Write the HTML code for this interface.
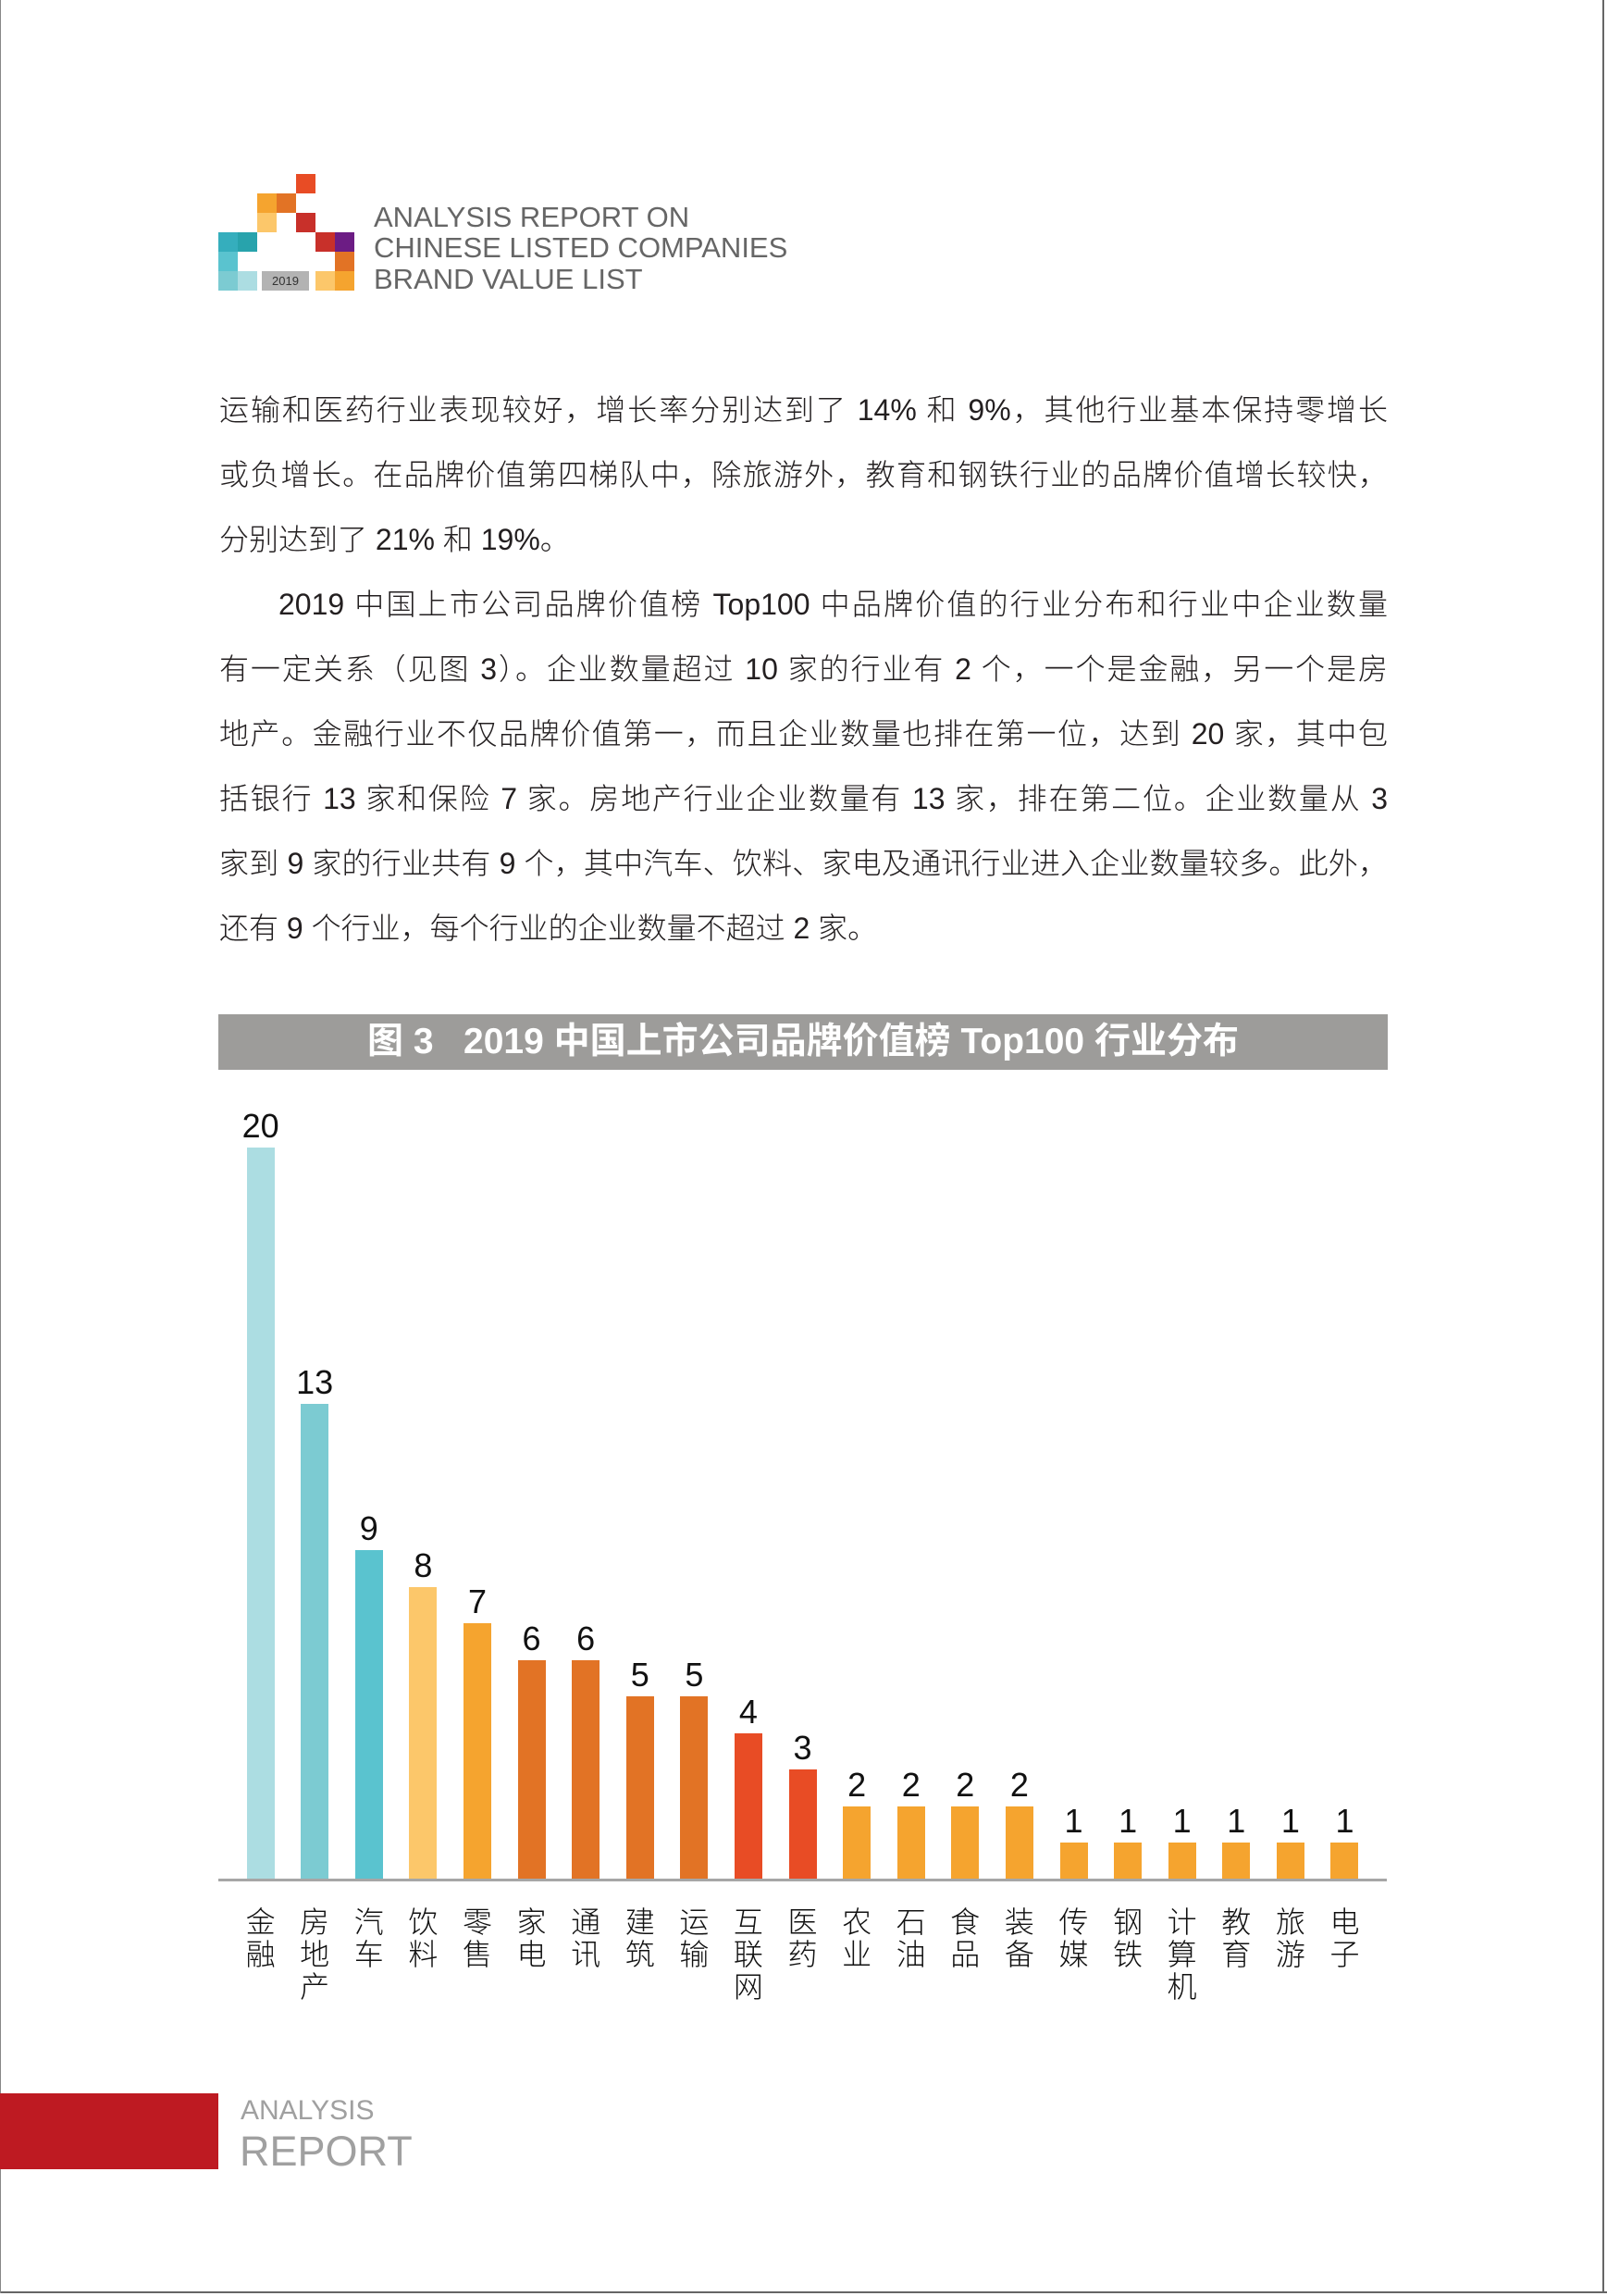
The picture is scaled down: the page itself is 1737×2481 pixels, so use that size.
<!DOCTYPE html>
<html><head><meta charset="utf-8"><style>
*{margin:0;padding:0;box-sizing:border-box}
body{width:1737px;height:2481px;position:relative;background:#fff;overflow:hidden;font-family:"Liberation Sans","Noto Sans CJK SC",sans-serif;color:#231f20}
.sq{position:absolute;width:21px;height:21px}
.hd{position:absolute;left:404px;font-size:31px;color:#666;line-height:32px;letter-spacing:0px;font-weight:normal}
.tx{position:absolute;left:237px;width:1263px;font-size:32px;line-height:70px;font-family:"Liberation Sans","Noto Sans CJK SC",sans-serif;font-weight:300;white-space:nowrap}
.j{text-align:justify;text-align-last:justify;white-space:normal}
.bars{position:absolute;left:252.3px;top:1100px;height:931px;display:flex;align-items:flex-end}
.col{width:58.6px;flex:none;display:flex;flex-direction:column;align-items:center}
.v{font-size:36px;line-height:36px;margin-bottom:5px;color:#111}
.b{width:30px}
.cats{position:absolute;left:252.3px;top:2058px;display:flex}
.c{width:58.6px;flex:none;text-align:center;font-size:32px;line-height:35px;font-family:"Noto Sans CJK SC",sans-serif;font-weight:300;color:#111}
</style></head><body>
<div style="position:absolute;right:3px;top:0;width:2px;height:2478px;background:#666"></div>
<div style="position:absolute;left:0;top:2476px;width:1737px;height:2px;background:#666"></div>
<div style="position:absolute;left:0;top:0;width:1px;height:2478px;background:#888"></div>

<div class="sq" style="left:320px;top:188px;background:#e84c25"></div>
<div class="sq" style="left:278px;top:209px;background:#f5a42f"></div>
<div class="sq" style="left:299px;top:209px;background:#e27325"></div>
<div class="sq" style="left:278px;top:230px;background:#fcc76a"></div>
<div class="sq" style="left:320px;top:230px;background:#c8302a"></div>
<div class="sq" style="left:236px;top:251px;background:#35aebd"></div>
<div class="sq" style="left:257px;top:251px;background:#28a3ac"></div>
<div class="sq" style="left:341px;top:251px;background:#c8302a"></div>
<div class="sq" style="left:362px;top:251px;background:#6c1c84"></div>
<div class="sq" style="left:236px;top:272px;background:#5ac3cf"></div>
<div class="sq" style="left:362px;top:272px;background:#e27325"></div>
<div class="sq" style="left:236px;top:293px;background:#7ccbd2"></div>
<div class="sq" style="left:257px;top:293px;background:#acdde2"></div>
<div style="position:absolute;left:283px;top:293px;width:51px;height:21px;background:#b3b3b3;font-size:13px;line-height:21px;text-align:center;color:#333">2019</div>
<div class="sq" style="left:341px;top:293px;background:#fcc76a"></div>
<div class="sq" style="left:362px;top:293px;background:#f5a42f"></div>
<div class="hd" style="top:219px">ANALYSIS REPORT ON</div>
<div class="hd" style="top:252px">CHINESE LISTED COMPANIES</div>
<div class="hd" style="top:286px">BRAND VALUE LIST</div>

<div class="tx j" style="top:408px">运输和医药行业表现较好，增长率分别达到了 14% 和 9%，其他行业基本保持零增长</div>
<div class="tx j" style="top:478px">或负增长。在品牌价值第四梯队中，除旅游外，教育和钢铁行业的品牌价值增长较快，</div>
<div class="tx" style="top:548px">分别达到了 21% 和 19%。</div>
<div class="tx j" style="top:618px;left:301px;width:1199px">2019 中国上市公司品牌价值榜 Top100 中品牌价值的行业分布和行业中企业数量</div>
<div class="tx j" style="top:688px">有一定关系（见图 3）。企业数量超过 10 家的行业有 2 个，一个是金融，另一个是房</div>
<div class="tx j" style="top:758px">地产。金融行业不仅品牌价值第一，而且企业数量也排在第一位，达到 20 家，其中包</div>
<div class="tx j" style="top:828px">括银行 13 家和保险 7 家。房地产行业企业数量有 13 家，排在第二位。企业数量从 3</div>
<div class="tx j" style="top:898px">家到 9 家的行业共有 9 个，其中汽车、饮料、家电及通讯行业进入企业数量较多。此外，</div>
<div class="tx" style="top:968px">还有 9 个行业，每个行业的企业数量不超过 2 家。</div>

<div style="position:absolute;left:236px;top:1096px;width:1264px;height:60px;background:#9d9c9a;color:#fff;font-size:39px;font-weight:bold;line-height:60px;text-align:center;font-family:'Liberation Sans','Noto Sans CJK SC',sans-serif">图 3&nbsp;&nbsp;&nbsp;2019 中国上市公司品牌价值榜 Top100 行业分布</div>

<div class="bars">
<div class="col"><div class="v">20</div><div class="b" style="height:791px;background:#acdde2"></div></div>
<div class="col"><div class="v">13</div><div class="b" style="height:514px;background:#7ccbd2"></div></div>
<div class="col"><div class="v">9</div><div class="b" style="height:356px;background:#5ac3cf"></div></div>
<div class="col"><div class="v">8</div><div class="b" style="height:316px;background:#fcc76a"></div></div>
<div class="col"><div class="v">7</div><div class="b" style="height:277px;background:#f5a42f"></div></div>
<div class="col"><div class="v">6</div><div class="b" style="height:237px;background:#e27325"></div></div>
<div class="col"><div class="v">6</div><div class="b" style="height:237px;background:#e27325"></div></div>
<div class="col"><div class="v">5</div><div class="b" style="height:198px;background:#e27325"></div></div>
<div class="col"><div class="v">5</div><div class="b" style="height:198px;background:#e27325"></div></div>
<div class="col"><div class="v">4</div><div class="b" style="height:158px;background:#e84c25"></div></div>
<div class="col"><div class="v">3</div><div class="b" style="height:119px;background:#e84c25"></div></div>
<div class="col"><div class="v">2</div><div class="b" style="height:79px;background:#f5a42f"></div></div>
<div class="col"><div class="v">2</div><div class="b" style="height:79px;background:#f5a42f"></div></div>
<div class="col"><div class="v">2</div><div class="b" style="height:79px;background:#f5a42f"></div></div>
<div class="col"><div class="v">2</div><div class="b" style="height:79px;background:#f5a42f"></div></div>
<div class="col"><div class="v">1</div><div class="b" style="height:40px;background:#f5a42f"></div></div>
<div class="col"><div class="v">1</div><div class="b" style="height:40px;background:#f5a42f"></div></div>
<div class="col"><div class="v">1</div><div class="b" style="height:40px;background:#f5a42f"></div></div>
<div class="col"><div class="v">1</div><div class="b" style="height:40px;background:#f5a42f"></div></div>
<div class="col"><div class="v">1</div><div class="b" style="height:40px;background:#f5a42f"></div></div>
<div class="col"><div class="v">1</div><div class="b" style="height:40px;background:#f5a42f"></div></div>
</div>
<div style="position:absolute;left:236px;top:2030px;width:1263px;height:3px;background:#a6a6a6"></div>

<div class="cats">
<div class="c">金<br>融</div><div class="c">房<br>地<br>产</div><div class="c">汽<br>车</div><div class="c">饮<br>料</div><div class="c">零<br>售</div><div class="c">家<br>电</div><div class="c">通<br>讯</div><div class="c">建<br>筑</div><div class="c">运<br>输</div><div class="c">互<br>联<br>网</div><div class="c">医<br>药</div><div class="c">农<br>业</div><div class="c">石<br>油</div><div class="c">食<br>品</div><div class="c">装<br>备</div><div class="c">传<br>媒</div><div class="c">钢<br>铁</div><div class="c">计<br>算<br>机</div><div class="c">教<br>育</div><div class="c">旅<br>游</div><div class="c">电<br>子</div>
</div>

<div style="position:absolute;left:0;top:2262px;width:236px;height:82px;background:#be1a22"></div>
<div style="position:absolute;left:260px;top:2266px;font-size:30px;line-height:30px;color:#a0a0a0">ANALYSIS</div>
<div style="position:absolute;left:259px;top:2302px;font-size:45px;line-height:46px;color:#a0a0a0">REPORT</div>
</body></html>
